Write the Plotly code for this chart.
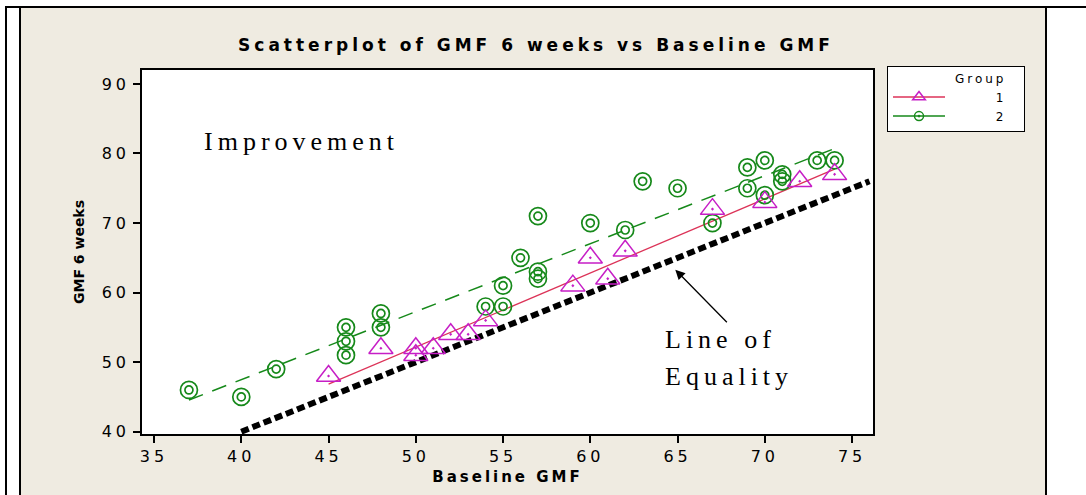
import numpy as np
import plotly.graph_objects as go

# ---------------- data ----------------
g1_baseline = [45, 48, 50, 50, 51, 52, 53, 54, 59, 60, 61, 62, 67, 70, 72, 74]
g1_week6 = [48, 52, 52, 51, 52, 54, 54, 56, 61, 65, 62, 66, 72, 73, 76, 77]

g2_baseline = [37, 40, 42, 46, 46, 46, 48, 48, 54, 55, 55, 56, 57, 57, 57,
               60, 62, 63, 65, 67, 69, 69, 70, 70, 71, 71, 73, 74]
g2_week6 = [46, 45, 49, 55, 53, 51, 57, 55, 58, 58, 61, 65, 71, 63, 62,
            70, 69, 76, 75, 70, 75, 78, 79, 74, 77, 76, 79, 79]

equality_x = [40, 76]
x_ticks = [35, 40, 45, 50, 55, 60, 65, 70, 75]
y_ticks = [40, 50, 60, 70, 80, 90]
group_names = ["1", "2"]

# ---------------- styling ----------------
W, H = 1086, 495
ML, MR, MT, MB = 142, 213, 70, 61
PW, PH = W - ML - MR, H - MT - MB
BEIGE = "#EFEBE1"
MAGENTA = "#C61EC6"
RED = "#DC3358"
GREEN = "#16891A"
NB = "\u00a0"


def px(xp):
    return (xp - ML) / PW


def py(yp):
    return (H - MB - yp) / PH


def fit(xs, ys):
    b, a = np.polyfit(xs, ys, 1)
    xl = np.array([min(xs), max(xs)], dtype=float)
    return xl, a + b * xl


fig = go.Figure()

# line of equality
fig.add_trace(go.Scatter(x=equality_x, y=equality_x, mode="lines", showlegend=False,
                         line=dict(color="black", width=6, dash="8px,4px"),
                         hoverinfo="skip"))

# regression lines
fx1, fy1 = fit(g1_baseline, g1_week6)
fx2, fy2 = fit(g2_baseline, g2_week6)
fig.add_trace(go.Scatter(x=fx1, y=fy1, mode="lines", showlegend=False,
                         line=dict(color=RED, width=1.3)))
fig.add_trace(go.Scatter(x=fx2, y=fy2, mode="lines", showlegend=False,
                         line=dict(color=GREEN, width=1.5, dash="15px,10px")))

# group 2 points (double circle)
fig.add_trace(go.Scatter(x=g2_baseline, y=g2_week6, mode="markers", showlegend=False,
                         marker=dict(symbol="circle-open", size=17, color=GREEN,
                                     line=dict(color=GREEN, width=1.7))))
fig.add_trace(go.Scatter(x=g2_baseline, y=g2_week6, mode="markers", showlegend=False,
                         marker=dict(symbol="circle-open", size=8, color=GREEN,
                                     line=dict(color=GREEN, width=1.7))))
# group 1 points (triangle with dot)
fig.add_trace(go.Scatter(x=g1_baseline, y=g1_week6, mode="markers", showlegend=False,
                         marker=dict(symbol="triangle-up-open-dot", size=21, color=MAGENTA,
                                     line=dict(color=MAGENTA, width=1.5))))

# legend entries
pad = NB * 12
tail = NB * 4
fig.add_trace(go.Scatter(x=[None], y=[None], mode="lines+markers",
                         name=pad + group_names[0] + tail,
                         line=dict(color=RED, width=1.5),
                         marker=dict(symbol="triangle-up-open", size=11, color=MAGENTA,
                                     line=dict(color=MAGENTA, width=1.5))))
fig.add_trace(go.Scatter(x=[None], y=[None], mode="lines+markers",
                         name=pad + group_names[1] + tail,
                         line=dict(color=GREEN, width=1.5),
                         marker=dict(symbol="circle-open-dot", size=9, color=GREEN,
                                     line=dict(color=GREEN, width=1.5))))

axis_common = dict(showline=True, linecolor="black", linewidth=1.5, mirror=True,
                   ticks="outside", ticklen=7, tickwidth=1.5, tickcolor="black",
                   showgrid=False, zeroline=False,
                   tickfont=dict(family="DejaVu Sans", size=16, color="black"))

fig.update_xaxes(range=[34.31, 76.2], tickvals=x_ticks, **axis_common,
                 title=dict(text="<b>Baseline GMF</b>", standoff=7,
                            font=dict(family="DejaVu Sans", size=15, color="black")))
fig.update_yaxes(range=[39.67, 92.0], tickvals=y_ticks, **axis_common,
                 title=dict(text="<b>GMF 6 weeks</b>", standoff=22,
                            font=dict(family="DejaVu Sans", size=14, color="black")))

serif = dict(family="Liberation Serif", size=26, color="black")
annotations = [
    dict(x=37.75, y=81.7, xref="x", yref="y", text="Improvement", showarrow=False,
         xanchor="left", yanchor="middle", align="left", font=serif),
    dict(x=64.15, y=53.3, xref="x", yref="y", text="Line of", showarrow=False,
         xanchor="left", yanchor="middle", align="left", font=serif),
    dict(x=64.15, y=48.0, xref="x", yref="y", text="Equality", showarrow=False,
         xanchor="left", yanchor="middle", align="left", font=serif),
    dict(x=64.87, y=63.3, ax=67.91, ay=55.53, xref="x", yref="y", axref="x", ayref="y",
         text="", showarrow=True, arrowhead=2, arrowsize=1.5, arrowwidth=1.3,
         arrowcolor="black"),
]

shapes = [
    dict(type="rect", xref="paper", yref="paper", x0=px(0), x1=px(20), y0=py(H), y1=py(0),
         fillcolor="white", line=dict(width=0), layer="below"),
    dict(type="rect", xref="paper", yref="paper", x0=px(1046), x1=px(W), y0=py(H), y1=py(0),
         fillcolor="white", line=dict(width=0), layer="below"),
    dict(type="rect", xref="paper", yref="paper", x0=px(0), x1=px(W), y0=py(7), y1=py(0),
         fillcolor="white", line=dict(width=0), layer="below"),
    dict(type="line", xref="paper", yref="paper", x0=px(5), x1=px(W), y0=py(7), y1=py(7),
         line=dict(color="black", width=2)),
    dict(type="line", xref="paper", yref="paper", x0=px(6), x1=px(6), y0=py(6), y1=py(H),
         line=dict(color="black", width=2)),
    dict(type="line", xref="paper", yref="paper", x0=px(20), x1=px(20), y0=py(7), y1=py(H),
         line=dict(color="black", width=2)),
    dict(type="line", xref="paper", yref="paper", x0=px(1046), x1=px(1046), y0=py(7), y1=py(H),
         line=dict(color="black", width=2)),
]

fig.update_layout(
    width=W, height=H,
    margin=dict(l=ML, r=MR, t=MT, b=MB, pad=0),
    paper_bgcolor=BEIGE, plot_bgcolor="white",
    title=dict(text="<b>Scatterplot of GMF 6 weeks vs Baseline GMF</b>",
               x=536 / W, xref="container", xanchor="center",
               y=1 - 45 / H, yref="container", yanchor="middle",
               font=dict(family="DejaVu Sans", size=17, color="black")),
    legend=dict(x=px(887), y=py(66), xanchor="left", yanchor="top",
                bgcolor="white", bordercolor="black", borderwidth=1,
                itemwidth=52, tracegroupgap=0,
                font=dict(family="DejaVu Sans", size=12, color="black"),
                title=dict(text="Group" + NB * 8, side="top right",
                           font=dict(family="DejaVu Sans", size=12, color="black"))),
    annotations=annotations,
    shapes=shapes,
    showlegend=True,
)

post = """
var gd = document.getElementById('{plot_id}');
function ls(sel, v) { gd.querySelectorAll(sel).forEach(function(e){ e.style.letterSpacing = v; }); }
ls('.gtitle', '4px');
ls('.xtitle', '3px');
ls('.xtick text', '4px');
ls('.ytick text', '4px');
ls('.annotation-text', '5px');
ls('.legendtitletext', '3px');
"""

fig.write_html("out.html", post_script=post)
